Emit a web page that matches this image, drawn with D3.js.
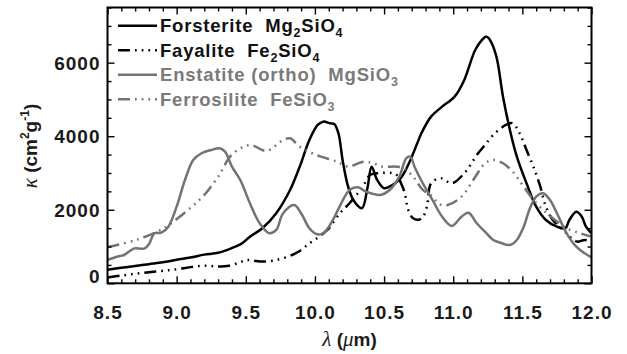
<!DOCTYPE html>
<html>
<head>
<meta charset="utf-8">
<script src="https://cdn.jsdelivr.net/npm/d3@7"></script>
<style>
  body { margin: 0; background: #fff; }
  svg text { font-family: "Liberation Sans", Arial, Helvetica, sans-serif; font-weight: bold; }
  .greek { font-family: "Liberation Serif", "Times New Roman", serif; font-style: italic; font-weight: normal; }
</style>
</head>
<body>
<svg id="chart" width="627" height="354"></svg>
<script>
// Mass absorption coefficient of crystalline silicates, kappa (cm^2 g^-1) vs wavelength (micron)
const forsteriteWl = [8.50,8.60,8.70,8.80,8.90,9.00,9.10,9.20,9.30,9.40,9.47,9.53,9.62,9.72,9.82,9.89,9.96,10.02,10.06,10.11,10.14,10.17,10.20,10.24,10.28,10.34,10.38,10.41,10.45,10.50,10.56,10.62,10.68,10.74,10.77,10.84,10.92,11.01,11.08,11.16,11.22,11.24,11.26,11.31,11.36,11.41,11.46,11.53,11.60,11.67,11.75,11.81,11.84,11.89,11.93,11.96,12.00];
const forsteriteK  = [370,420,470,520,570,640,700,780,830,960,1080,1268,1496,1904,2538,3172,3898,4306,4396,4352,4333,4080,3354,2628,2250,2040,2600,3172,2810,2584,2674,2856,3264,3808,4080,4532,4804,5075,5530,6350,6664,6708,6650,6200,5075,4170,3444,2720,2084,1722,1540,1496,1722,1948,1812,1540,1360];

const fayaliteWl = [8.50,8.60,8.70,8.80,8.90,9.00,9.10,9.20,9.30,9.38,9.45,9.50,9.55,9.62,9.70,9.80,9.89,9.96,10.03,10.09,10.18,10.25,10.30,10.35,10.40,10.47,10.55,10.59,10.625,10.65,10.675,10.71,10.75,10.78,10.81,10.84,10.91,10.99,11.08,11.18,11.23,11.29,11.38,11.43,11.48,11.53,11.58,11.63,11.67,11.72,11.77,11.82,11.87,11.90,11.95,12.00];
const fayaliteK  = [160,210,260,300,340,380,440,480,460,480,560,630,620,590,620,720,880,1088,1268,1450,1904,2176,2400,2650,2950,3000,3000,2950,2700,2448,1994,1768,1730,1800,2084,2720,2856,2720,2992,3536,3762,4034,4306,4352,4080,3626,3172,2628,2084,1722,1540,1360,1178,1132,1178,1132];

const enstatiteWl = [8.50,8.59,8.62,8.68,8.70,8.77,8.80,8.84,8.89,8.94,9.00,9.06,9.12,9.18,9.25,9.31,9.35,9.40,9.46,9.53,9.60,9.67,9.72,9.77,9.85,9.90,9.96,10.01,10.06,10.13,10.18,10.25,10.31,10.37,10.47,10.54,10.61,10.66,10.69,10.72,10.78,10.85,10.92,10.99,11.06,11.11,11.17,11.23,11.29,11.34,11.41,11.46,11.51,11.55,11.60,11.65,11.70,11.75,11.82,11.89,11.95,12.00];
const enstatiteK  = [640,743,770,925,952,952,1069,1360,1376,1540,2084,2810,3354,3536,3626,3672,3580,3172,2810,2176,1632,1360,1450,1904,2130,1904,1496,1341,1360,1722,2100,2538,2611,2492,2402,2538,2900,3400,3444,3172,2720,2266,1812,1560,1812,1920,1632,1404,1178,1104,1042,1178,1540,1994,2356,2448,2266,1904,1360,996,816,707];

const ferrosiliteWl = [8.50,8.70,8.86,8.96,9.11,9.20,9.30,9.40,9.53,9.65,9.77,9.82,9.89,10.01,10.16,10.24,10.35,10.42,10.49,10.59,10.64,10.71,10.78,10.85,10.90,10.96,11.06,11.16,11.23,11.29,11.36,11.43,11.51,11.58,11.65,11.72,11.82,11.92,12.00];
const ferrosiliteK  = [985,1170,1404,1632,2084,2402,2900,3500,3762,3600,3898,3944,3716,3490,3308,3172,3308,3264,3172,3172,3128,2900,2538,2356,2150,2130,2356,2900,3264,3354,3264,3036,2628,2266,1994,1768,1496,1360,1268];

const xMajorTicks = [8.5, 9.0, 9.5, 10.0, 10.5, 11.0, 11.5, 12.0];
const yMajorTicks = [0, 2000, 4000, 6000];

const BLACK = "#000";
const GREY = "#737373";
const DASH_DOTS = "12 5 1.7 5 1.7 5 1.7 5";

const series = [
  { name: "Forsterite", formula: ["Mg", "2", "SiO", "4"], wl: forsteriteWl, k: forsteriteK, color: BLACK, dash: null },
  { name: "Fayalite", formula: ["Fe", "2", "SiO", "4"], wl: fayaliteWl, k: fayaliteK, color: BLACK, dash: DASH_DOTS },
  { name: "Enstatite (ortho)", formula: ["MgSiO", "3"], wl: enstatiteWl, k: enstatiteK, color: GREY, dash: null },
  { name: "Ferrosilite", formula: ["FeSiO", "3"], wl: ferrosiliteWl, k: ferrosiliteK, color: GREY, dash: DASH_DOTS }
];

const L = 107.5, R = 591.5, T = 7.5, B = 283.3;
const svg = d3.select("#chart");
const x = d3.scaleLinear().domain([8.5, 12.0]).range([L, R]);
const y = d3.scaleLinear().domain([0, 7500]).range([B, T]);

svg.append("defs").append("clipPath").attr("id", "plotclip")
  .append("rect").attr("x", L).attr("y", T).attr("width", R - L).attr("height", B - T);

// curves
const line = d3.line().curve(d3.curveCatmullRom.alpha(0.5));
const curves = svg.append("g").attr("clip-path", "url(#plotclip)");
series.forEach(s => {
  const pts = s.wl.map((w, i) => [x(w), y(s.k[i])]);
  curves.append("path")
    .attr("d", line(pts))
    .attr("fill", "none")
    .attr("stroke", s.color)
    .attr("stroke-width", 2.5)
    .attr("stroke-linejoin", "round")
    .attr("stroke-dasharray", s.dash);
});

// minor tick values
const xMinor = d3.range(8.5, 12.001, 0.1).map(v => +v.toFixed(1)).filter(v => !xMajorTicks.includes(v));
const yMinor = d3.range(0, 7501, 500).filter(v => !yMajorTicks.includes(v));

function styleAxis(g) {
  g.select(".domain").remove();
  g.selectAll(".tick line").attr("stroke", "#000").attr("stroke-width", 1.4);
  g.selectAll("text").attr("fill", "#1a1a1a").style("font-size", "19px").style("letter-spacing", "1px");
}

// bottom axis with labels
svg.append("g").attr("transform", `translate(0,${B})`)
  .call(d3.axisBottom(x).tickValues(xMajorTicks).tickSize(-7).tickPadding(22).tickFormat(d3.format(".1f")))
  .call(styleAxis);
svg.append("g").attr("transform", `translate(0,${B})`)
  .call(d3.axisBottom(x).tickValues(xMinor).tickSize(-4).tickFormat(""))
  .call(styleAxis);
// top axis
svg.append("g").attr("transform", `translate(0,${T})`)
  .call(d3.axisTop(x).tickValues(xMajorTicks).tickSize(-7).tickFormat(""))
  .call(styleAxis);
svg.append("g").attr("transform", `translate(0,${T})`)
  .call(d3.axisTop(x).tickValues(xMinor).tickSize(-4).tickFormat(""))
  .call(styleAxis);
// left axis with labels
const leftAx = svg.append("g").attr("transform", `translate(${L},0)`)
  .call(d3.axisLeft(y).tickValues(yMajorTicks).tickSize(-7).tickPadding(7).tickFormat(d3.format("d")))
  .call(styleAxis);
leftAx.selectAll("text").attr("dy", d => d === 0 ? "-0.02em" : "0.34em");
svg.append("g").attr("transform", `translate(${L},0)`)
  .call(d3.axisLeft(y).tickValues(yMinor).tickSize(-4).tickFormat(""))
  .call(styleAxis);
// right axis
svg.append("g").attr("transform", `translate(${R},0)`)
  .call(d3.axisRight(y).tickValues(yMajorTicks).tickSize(-7).tickFormat(""))
  .call(styleAxis);
svg.append("g").attr("transform", `translate(${R},0)`)
  .call(d3.axisRight(y).tickValues(yMinor).tickSize(-4).tickFormat(""))
  .call(styleAxis);

// frame
svg.append("rect").attr("x", L).attr("y", T).attr("width", R - L).attr("height", B - T)
  .attr("fill", "none").attr("stroke", "#000").attr("stroke-width", 2);

// axis titles
const xt = svg.append("text").attr("x", (L + R) / 2).attr("y", 346)
  .attr("text-anchor", "middle").style("font-size", "19px").attr("fill", "#1a1a1a");
xt.append("tspan").attr("class", "greek").style("font-size", "21px").text("λ");
xt.append("tspan").text(" (");
xt.append("tspan").attr("class", "greek").style("font-size", "21px").text("μ");
xt.append("tspan").text("m)");

const yt = svg.append("text").attr("transform", "translate(37,146) rotate(-90)")
  .attr("text-anchor", "middle").style("font-size", "19px").attr("fill", "#1a1a1a");
yt.append("tspan").attr("class", "greek").style("font-size", "21px").text("κ");
yt.append("tspan").text(" (cm");
yt.append("tspan").attr("dy", -8).style("font-size", "12px").text("2");
yt.append("tspan").attr("dy", 8).text("g");
yt.append("tspan").attr("dy", -8).style("font-size", "12px").text("-1");
yt.append("tspan").attr("dy", 8).text(")");

// legend
const legend = svg.append("g");
series.forEach((s, i) => {
  const ly = 25.7 + i * 24.5;
  legend.append("line")
    .attr("x1", 118).attr("x2", 157).attr("y1", ly).attr("y2", ly)
    .attr("stroke", s.color).attr("stroke-width", 2.5)
    .attr("stroke-dasharray", s.dash);
  const t = legend.append("text").attr("x", 160).attr("y", ly + 6.3)
    .attr("fill", s.color === BLACK ? "#111" : "#7a7a7a")
    .style("font-size", "18.5px").style("white-space", "pre").style("letter-spacing", "0.8px");
  t.append("tspan").text(s.name + "  ");
  s.formula.forEach((part, j) => {
    const sub = j % 2 === 1;
    t.append("tspan")
      .attr("dy", sub ? 5 : (j > 0 ? -5 : 0))
      .style("font-size", sub ? "12.5px" : "18.5px")
      .text(part);
  });
});
</script>
</body>
</html>
